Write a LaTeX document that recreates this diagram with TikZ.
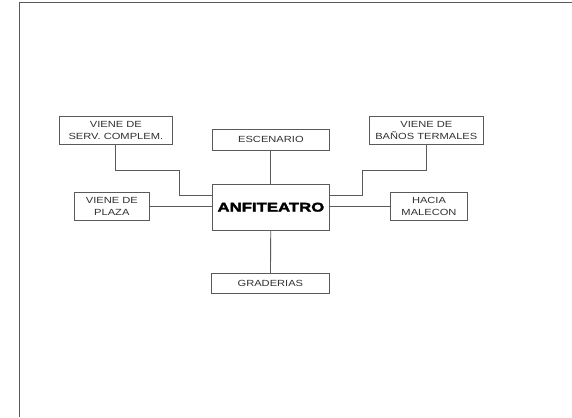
\documentclass[tikz,border=0pt]{standalone}
\usepackage{fontspec}
\setmainfont{Liberation Sans}
\newfontfamily\boxfont[FakeStretch=1.25]{Liberation Sans}
\newfontfamily\hubfont[FakeStretch=1.33,FakeBold=2.6]{Liberation Sans Bold}
\usepackage{xcolor}
\definecolor{LineGrey}{HTML}{5A5A5A}
\definecolor{InkGrey}{HTML}{303030}
\usetikzlibrary{positioning,calc}

\begin{document}
\begin{tikzpicture}[
  x=1pt, y=-1pt,
  font=\boxfont\fontsize{8.9}{11.6}\selectfont,
  box/.style={draw=LineGrey, line width=0.9pt, align=center, text=InkGrey,
              inner sep=0pt, minimum height=28.1pt},
  link/.style={draw=LineGrey, line width=0.9pt}
]
  \useasboundingbox (0,0) rectangle (572,417);
  \draw[link] (19,417) -- (19,2.5) -- (572,2.5);

  \node[box, minimum width=117.8pt, minimum height=46pt, text=black,
        font=\hubfont\fontsize{12.6}{14}\selectfont] (anf) at (270.9,207.2) {ANFITEATRO};
  \node[box, minimum width=117.8pt, minimum height=20.5pt] (esc) at (270.9,139.75) {ESCENARIO};
  \node[box, minimum width=118.8pt, minimum height=19.7pt] (grad) at (270.4,283.45) {GRADERIAS};
  \node[box, minimum width=113.5pt] (serv) at (115.85,130.75) {VIENE DE\\SERV. COMPLEM.};
  \node[box, minimum width=113.4pt] (banos) at (426.3,130.75) {VIENE DE\\BAÑOS TERMALES};
  \node[box, minimum width=75.6pt] (plaza) at (111.8,206.65) {VIENE DE\\PLAZA};
  \node[box, minimum width=76.6pt] (hacia) at (429,206.65) {HACIA\\MALECON};

  \coordinate (servk) at (179.9,170);
  \coordinate (banosk) at (362.3,170);

  \draw[link] (esc) -- (anf);
  \draw[link] (anf) -- (grad);
  \draw[link] (plaza.east) -- (plaza.east -| anf.west);
  \draw[link] (anf.east |- hacia.west) -- (hacia.west);
  \draw[link] (serv.south) |- (servk) |- ([yshift=11.3pt]anf.west);
  \draw[link] (banos.south) |- (banosk) |- ([yshift=11.3pt]anf.east);
\end{tikzpicture}
\end{document}
